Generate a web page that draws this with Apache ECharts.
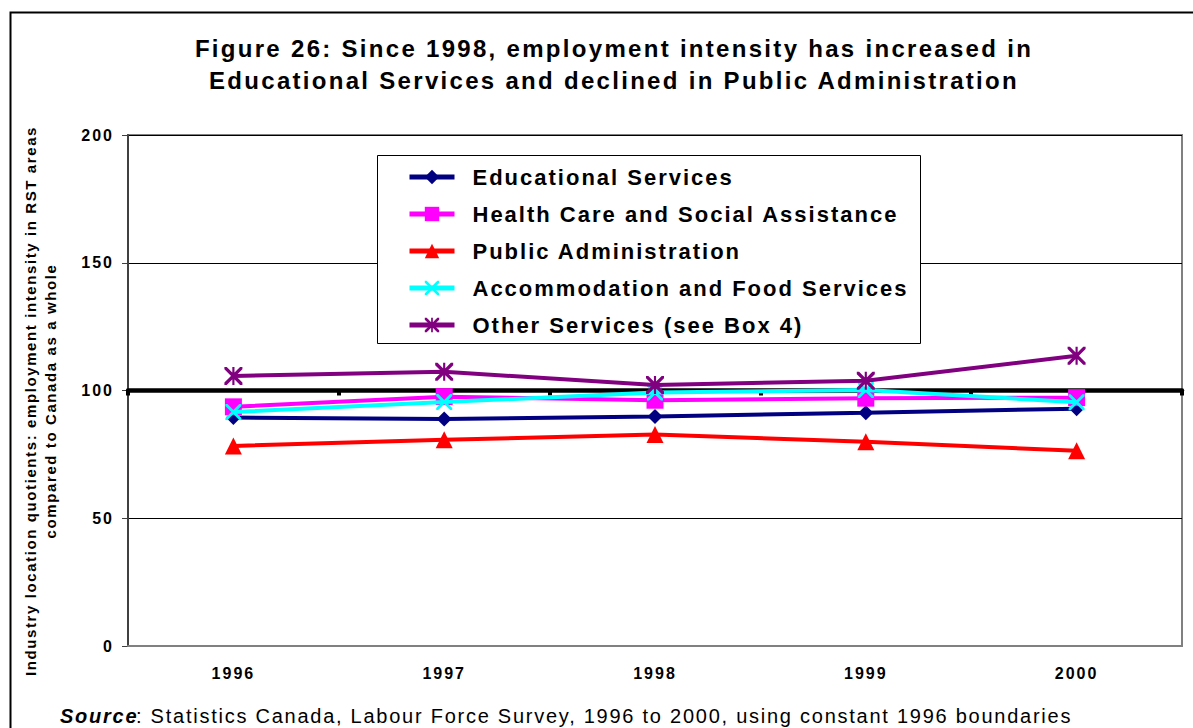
<!DOCTYPE html>
<html>
<head>
<meta charset="utf-8">
<script src="https://cdn.jsdelivr.net/npm/echarts@6/dist/echarts.min.js"></script>
<style>
  html, body { margin: 0; padding: 0; background: #fff; }
  #chart { width: 1193px; height: 728px; }
  /* Loose tracking on the chart's text, per font size */
  #chart text[style*="24px"] { letter-spacing: 2.3px; }
  #chart text[style*="22px"] { letter-spacing: 2px; }
  #chart text[style*="20px"] { letter-spacing: 1.75px; }
  #chart text[style*="16px"] { letter-spacing: 2px; }
  #chart text[style*="15px"] { letter-spacing: 1.6px; }
</style>
</head>
<body>
<div id="chart"></div>
<script>
// Years on the category axis
const years = ['1996', '1997', '1998', '1999', '2000'];

// Industry location quotients (RST areas vs Canada = 100)
const educational = [89.4, 88.8, 89.8, 91.3, 92.9];
const healthCare = [93.6, 97.6, 96.2, 97.0, 97.2];
const publicAdmin = [78.3, 80.7, 82.8, 79.9, 76.4];
const accommodation = [91.6, 95.5, 99.2, 100.2, 95.4];
const otherServices = [105.7, 107.3, 102.2, 103.8, 113.6];

const yTicks = [0, 50, 100, 150, 200];
const baseline = 100;

// Custom marker outlines: a diagonal cross and an asterisk, built from thin strips
const crossPath = 'path://M0,0 L1.3,0 L10,8.7 L10,10 L8.7,10 L0,1.3 Z M8.7,0 L10,0 L10,1.3 L1.3,10 L0,10 L0,8.7 Z';
const starPath = 'path://M0,0 L1.3,0 L10,8.7 L10,10 L8.7,10 L0,1.3 Z M8.7,0 L10,0 L10,1.3 L1.3,10 L0,10 L0,8.7 Z M4.4,0 L5.6,0 L5.6,10 L4.4,10 Z';

const FONT = 'Liberation Sans, Arial, sans-serif';

function lineSeries(name, data, color, symbol, size, z) {
  return {
    name: name,
    type: 'line',
    data: data,
    symbol: symbol,
    symbolSize: size,
    showAllSymbol: true,
    z: z,
    lineStyle: { color: color, width: 4 },
    itemStyle: { color: color },
    emphasis: { disabled: true },
    animation: false
  };
}

const chart = echarts.init(document.getElementById('chart'), null, { renderer: 'svg' });

const series = [
  lineSeries('Educational Services', educational, '#000080', 'diamond', 15, 3),
  lineSeries('Health Care and Social Assistance', healthCare, '#FF00FF', 'rect', 17, 4),
  lineSeries('Public Administration', publicAdmin, '#FF0000', 'triangle', 17, 5),
  lineSeries('Accommodation and Food Services', accommodation, '#00FFFF', crossPath, 16, 6),
  lineSeries('Other Services (see Box 4)', otherServices, '#800080', starPath, 18, 7)
];

// Invisible series on the second category axis, which crosses the value axis at 100
series.push({
  name: 'baseline',
  type: 'line',
  xAxisIndex: 1,
  data: years.map(() => baseline),
  symbol: 'none',
  lineStyle: { width: 0, opacity: 0 },
  z: 2,
  silent: true,
  animation: false
});

chart.setOption({
  backgroundColor: '#fff',
  animation: false,
  title: {
    text: 'Figure 26: Since 1998, employment intensity has increased in\nEducational Services and declined in Public Administration',
    left: 609,
    textAlign: 'center',
    top: 27,
    textStyle: {
      fontFamily: FONT,
      fontWeight: 'bold',
      fontSize: 24,
      lineHeight: 32,
      color: '#000'
    }
  },
  legend: {
    orient: 'vertical',
    left: 407,
    top: 166,
    padding: 0,
    itemGap: 15,
    itemWidth: 45,
    itemHeight: 18,
    z: 20,
    lineStyle: { width: 5 },
    data: series.slice(0, 5).map(s => s.name),
    textStyle: {
      fontFamily: FONT,
      fontWeight: 'bold',
      fontSize: 22,
      color: '#000',
      padding: [0, 0, 0, 13]
    },
    selectedMode: false
  },
  grid: {
    left: 128,
    right: 11,
    top: 135,
    bottom: 82,
    show: true,
    borderColor: '#808080',
    borderWidth: 2,
    backgroundColor: '#fff'
  },
  xAxis: [
    {
      type: 'category',
      data: years,
      boundaryGap: true,
      axisLine: { show: true, onZero: false, lineStyle: { color: '#808080', width: 2 } },
      axisTick: { show: false },
      axisLabel: {
        fontFamily: FONT,
        fontWeight: 'bold',
        fontSize: 16,
        color: '#000',
        margin: 19
      },
      z: 10
    },
    {
      type: 'category',
      data: years,
      boundaryGap: true,
      position: 'bottom',
      offset: -255.5,
      axisLine: { show: true, onZero: false, lineStyle: { color: '#000', width: 4.5 } },
      axisTick: { show: true, inside: false, length: 5, lineStyle: { color: '#000', width: 4 } },
      axisLabel: { show: false },
      z: 3
    }
  ],
  yAxis: {
    type: 'value',
    min: 0,
    max: 200,
    interval: 50,
    axisLine: { show: true, lineStyle: { color: '#404040', width: 2 } },
    axisTick: { show: true, length: 6, lineStyle: { color: '#404040', width: 1 } },
    splitLine: { show: true, lineStyle: { color: '#000', width: 1 } },
    axisLabel: {
      fontFamily: FONT,
      fontWeight: 'bold',
      fontSize: 16,
      color: '#000',
      margin: 14,
      formatter: v => (yTicks.indexOf(v) >= 0 ? String(v) : '')
    }
  },
  graphic: [
    {
      type: 'rect',
      left: 8,
      top: 10,
      shape: { width: 1200, height: 740 },
      style: { fill: 'none', stroke: '#000', lineWidth: 2 },
      z: 100,
      silent: true
    },
    {
      // legend frame
      type: 'rect',
      left: 377,
      top: 155,
      shape: { width: 543, height: 188 },
      style: { fill: '#fff', stroke: '#000', lineWidth: 1 },
      z: 1,
      silent: true
    },
    {
      type: 'text',
      x: 40,
      y: 401,
      rotation: Math.PI / 2,
      style: {
        text: 'Industry location quotients: employment intensity in RST areas\ncompared to Canada as a whole',
        fontFamily: FONT,
        fontWeight: 'bold',
        fontSize: 15,
        lineHeight: 20,
        fill: '#000',
        align: 'center',
        verticalAlign: 'middle'
      },
      z: 100
    },
    {
      type: 'text',
      left: 60,
      top: 706,
      style: {
        text: 'Source',
        fontFamily: FONT,
        fontSize: 20,
        fontWeight: 'bold',
        fontStyle: 'italic',
        fill: '#000'
      },
      z: 100
    },
    {
      type: 'text',
      left: 136,
      top: 706,
      style: {
        text: ': Statistics Canada, Labour Force Survey, 1996 to 2000, using constant 1996 boundaries',
        fontFamily: FONT,
        fontSize: 20,
        fill: '#000'
      },
      z: 100
    }
  ],
  series: series
});
</script>
</body>
</html>
